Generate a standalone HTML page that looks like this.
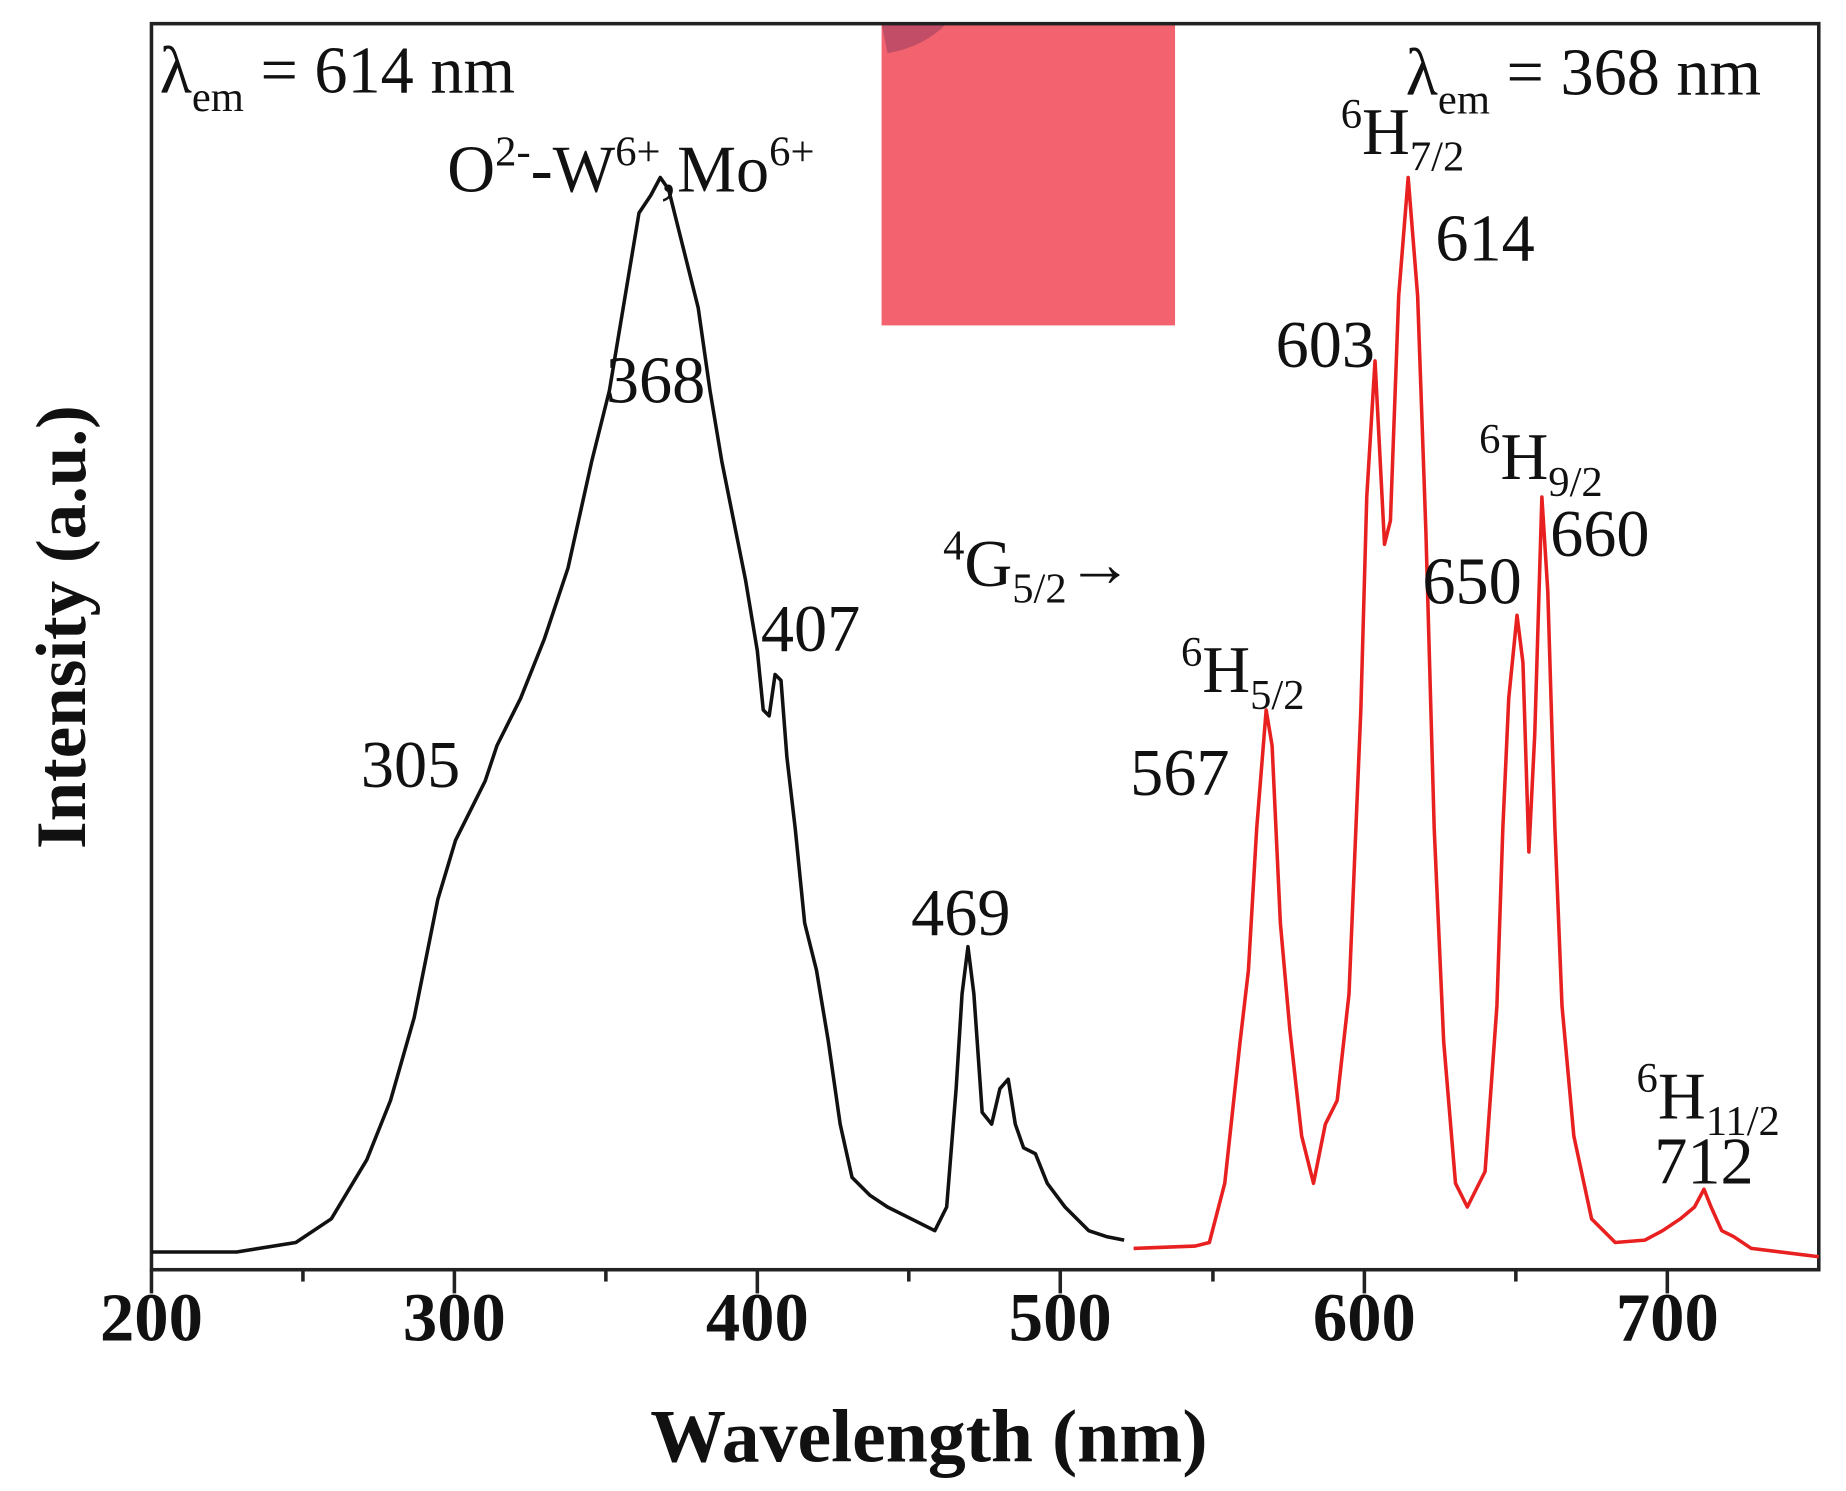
<!DOCTYPE html>
<html><head><meta charset="utf-8"><style>
html,body{margin:0;padding:0;background:#fff}
svg{display:block}
text{font-family:"Liberation Serif",serif;fill:#111}
</style></head><body>
<svg width="1846" height="1491" viewBox="0 0 1560 1260" xmlns="http://www.w3.org/2000/svg">
<rect x="745" y="20" width="248" height="255" fill="#f2636f"/>
<path d="M745,20 L800,20 Q780,40 750,45 Z" fill="#a04060" opacity="0.6"/>
<rect x="128" y="20" width="1409" height="1053" fill="none" stroke="#222" stroke-width="3"/>
<g stroke="#222" stroke-width="3">
<line x1="128" y1="1073" x2="128" y2="1093"/><line x1="384" y1="1073" x2="384" y2="1093"/><line x1="640" y1="1073" x2="640" y2="1093"/><line x1="896" y1="1073" x2="896" y2="1093"/><line x1="1153" y1="1073" x2="1153" y2="1093"/><line x1="1409" y1="1073" x2="1409" y2="1093"/>
<line x1="256" y1="1073" x2="256" y2="1083"/><line x1="512" y1="1073" x2="512" y2="1083"/><line x1="768" y1="1073" x2="768" y2="1083"/><line x1="1025" y1="1073" x2="1025" y2="1083"/><line x1="1281" y1="1073" x2="1281" y2="1083"/>
</g>
<g font-size="58" font-weight="bold" text-anchor="middle">
<text x="128" y="1133">200</text><text x="384" y="1133">300</text><text x="640" y="1133">400</text><text x="896" y="1133">500</text><text x="1153" y="1133">600</text><text x="1409" y="1133">700</text>
</g>
<text x="785" y="1235" font-size="64" font-weight="bold" text-anchor="middle">Wavelength (nm)</text>
<text transform="translate(72,530) rotate(-90)" font-size="60" font-weight="bold" text-anchor="middle">Intensity (a.u.)</text>
<polyline fill="none" stroke="#111" stroke-width="3" stroke-linejoin="round" points="128,1058 200,1058 250,1050 280,1030 310,980 330,930 350,860 370,760 385,710 400,680 410,660 420,630 440,590 460,540 480,480 500,390 515,330 530,240 540,180 550,165 558,150 565,160 575,200 590,260 600,330 610,390 620,440 630,490 640,550 645,600 650,605 655,570 660,575 665,640 672,700 680,780 690,820 700,880 710,950 720,995 735,1010 750,1020 770,1030 790,1040 800,1020 808,920 813,840 818,800 823,840 830,940 838,950 845,920 852,912 858,950 865,970 875,975 885,1000 900,1020 920,1040 935,1045 950,1048"/>
<polyline fill="none" stroke="#e82020" stroke-width="3" stroke-linejoin="round" points="958,1055 1010,1053 1022,1050 1035,1000 1048,880 1055,820 1062,700 1070,600 1075,630 1082,780 1090,870 1100,960 1110,1000 1120,950 1130,930 1140,840 1150,600 1155,420 1162,305 1170,460 1175,440 1182,250 1190,150 1198,250 1205,450 1212,700 1220,880 1230,1000 1240,1020 1255,990 1265,850 1270,700 1275,590 1282,520 1287,560 1292,720 1297,620 1303,420 1308,500 1314,700 1320,850 1330,960 1345,1030 1365,1050 1390,1048 1405,1040 1420,1030 1432,1020 1440,1005 1446,1020 1455,1040 1465,1045 1480,1055 1537,1062"/>
<g font-size="56">
<text x="135" y="78">λ<tspan font-size="36" dy="16">em</tspan><tspan dy="-16"> = 614 nm</tspan></text>
<text x="1188" y="80">λ<tspan font-size="36" dy="16">em</tspan><tspan dy="-16"> = 368 nm</tspan></text>
<text x="378" y="162">O<tspan font-size="36" dy="-22">2-</tspan><tspan dy="22">-W</tspan><tspan font-size="36" dy="-22">6+</tspan><tspan dy="22">,Mo</tspan><tspan font-size="36" dy="-22">6+</tspan></text>
<text x="512" y="340">368</text>
<text x="643" y="550">407</text>
<text x="305" y="665">305</text>
<text x="770" y="790">469</text>
<text x="797" y="495"><tspan font-size="36" dy="-22">4</tspan><tspan dy="22">G</tspan><tspan font-size="36" dy="14">5/2</tspan><tspan dy="-14">→</tspan></text>
<text x="998" y="585"><tspan font-size="36" dy="-22">6</tspan><tspan dy="22">H</tspan><tspan font-size="36" dy="14">5/2</tspan></text>
<text x="955" y="672">567</text>
<text x="1078" y="310">603</text>
<text x="1133" y="130"><tspan font-size="36" dy="-22">6</tspan><tspan dy="22">H</tspan><tspan font-size="36" dy="14">7/2</tspan></text>
<text x="1213" y="220">614</text>
<text x="1250" y="405"><tspan font-size="36" dy="-22">6</tspan><tspan dy="22">H</tspan><tspan font-size="36" dy="14">9/2</tspan></text>
<text x="1202" y="510">650</text>
<text x="1310" y="470">660</text>
<text x="1383" y="945"><tspan font-size="36" dy="-22">6</tspan><tspan dy="22">H</tspan><tspan font-size="36" dy="14">11/2</tspan></text>
<text x="1398" y="1000">712</text>
</g>
</svg>
</body></html>
